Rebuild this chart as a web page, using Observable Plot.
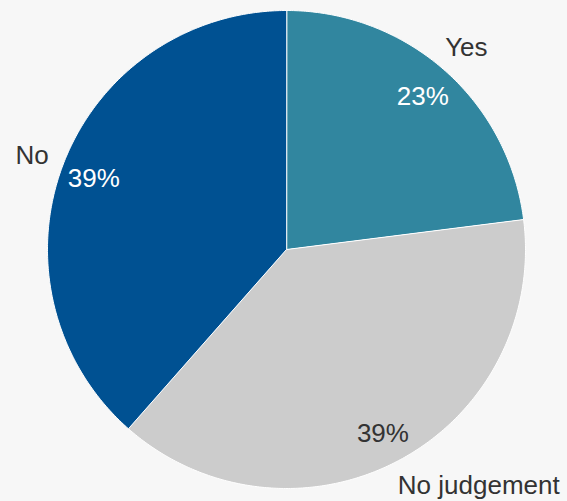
<!DOCTYPE html>
<html>
<head>
<meta charset="utf-8">
<script src="https://cdn.jsdelivr.net/npm/d3@7"></script>
<script src="https://cdn.jsdelivr.net/npm/@observablehq/plot@0.6"></script>
<style>
  html, body { margin: 0; padding: 0; background: #f7f7f7; }
  #chart { width: 567px; height: 501px; }
</style>
</head>
<body>
<div id="chart"></div>
<script>
const categories = ["Yes", "No judgement", "No"];
const values = [23, 38.5, 38.5];
const colors = ["#31869f", "#cccccc", "#005192"];
const pctColors = ["#ffffff", "#333333", "#ffffff"];

const data = categories.map((c, i) => ({category: c, value: values[i]}));
const arcs = d3.pie().value(d => d.value).sort(null)(data);

// polygon points for each slice (unit circle, angle clockwise from top)
const slicePts = [];
arcs.forEach(a => {
  const c = a.data.category;
  slicePts.push({category: c, x: 0, y: 0});
  const n = Math.max(2, Math.ceil((a.endAngle - a.startAngle) / 0.01));
  for (let k = 0; k <= n; k++) {
    const t = a.startAngle + (a.endAngle - a.startAngle) * k / n;
    slicePts.push({category: c, x: Math.sin(t), y: Math.cos(t)});
  }
});

const rIn = 0.862, rOut = 1.138;
const labels = arcs.map((a, i) => {
  const m = (a.startAngle + a.endAngle) / 2;
  return {
    category: a.data.category,
    pct: Math.round(a.data.value) + "%",
    pctColor: pctColors[i],
    xi: rIn * Math.sin(m), yi: rIn * Math.cos(m),
    xo: rOut * Math.sin(m), yo: rOut * Math.cos(m)
  };
});

const font = "'Liberation Sans', Arial, Helvetica, sans-serif";
const chart = Plot.plot({
  width: 567,
  height: 501,
  marginLeft: 47,
  marginRight: 42,
  marginTop: 10,
  marginBottom: 13,
  x: {domain: [-1, 1], axis: null},
  y: {domain: [-1, 1], axis: null},
  color: {domain: categories, range: colors},
  style: {background: "#f7f7f7", fontFamily: font},
  marks: [
    Plot.line(slicePts, {x: "x", y: "y", z: "category", fill: "category", stroke: "#ffffff", strokeWidth: 1, curve: "linear-closed"}),
    Plot.text(labels, {x: "xi", y: "yi", text: "pct", fill: d => d.pctColor, fontSize: 26, dy: 2}),
    Plot.text(labels.filter(d => d.category !== "No judgement"), {x: "xo", y: "yo", text: "category", fill: "#333333", fontSize: 26, dy: 2}),
    Plot.text(labels.filter(d => d.category === "No judgement"), {x: "xo", y: "yo", text: "category", fill: "#333333", fontSize: 26, dx: 65, dy: -4})
  ]
});
document.getElementById("chart").appendChild(chart);
</script>
</body>
</html>
